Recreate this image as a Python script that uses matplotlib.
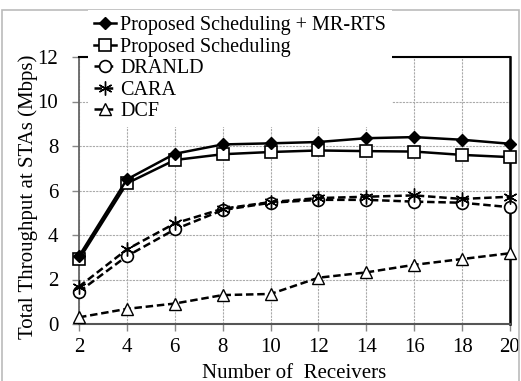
import matplotlib
matplotlib.use("Agg")
import matplotlib.pyplot as plt
from matplotlib.patches import Rectangle

plt.rcParams['font.family'] = ['Liberation Serif', 'DejaVu Serif']

# data
receivers = [2, 4, 6, 8, 10, 12, 14, 16, 18, 20]
mr_rts = [3.05, 6.5, 7.65, 8.07, 8.12, 8.18, 8.35, 8.4, 8.28, 8.1]
proposed = [2.9, 6.32, 7.37, 7.63, 7.73, 7.8, 7.77, 7.75, 7.6, 7.5]
dranld = [1.45, 3.05, 4.25, 5.12, 5.45, 5.58, 5.58, 5.5, 5.45, 5.25]
cara = [1.68, 3.35, 4.52, 5.18, 5.48, 5.66, 5.72, 5.78, 5.62, 5.72]
dcf = [0.3, 0.68, 0.92, 1.3, 1.35, 2.08, 2.32, 2.66, 2.92, 3.18]

labels = ['Proposed Scheduling + MR-RTS', 'Proposed Scheduling', 'DRANLD', 'CARA', 'DCF']

fig = plt.figure(figsize=(5.21, 3.81), dpi=100)
ax = fig.add_axes([79/521, 1 - 324/381, (510 - 79)/521, (324 - 57)/381])

ax.plot(receivers, mr_rts, color='black', lw=1.8, marker='D', ms=6.5,
        mfc='black', mec='black', label=labels[0], clip_on=False, zorder=5)
ax.plot(receivers, proposed, color='black', lw=1.8, marker='s', ms=8.5,
        mfc='white', mec='black', mew=1.2, label=labels[1], clip_on=False, zorder=4)
ax.plot(receivers, dranld, color='black', lw=1.8, ls=(0, (3, 1.5)), marker='o', ms=8.5,
        mfc='white', mec='black', mew=1.2, label=labels[2], clip_on=False, zorder=4)
ax.plot(receivers, cara, color='black', lw=1.8, ls=(0, (3, 1.5)), marker=(6, 2, 0), ms=10,
        mec='black', mew=1.0, label=labels[3], clip_on=False, zorder=4)
ax.plot(receivers, dcf, color='black', lw=1.8, ls=(0, (3, 1.5)), marker='^', ms=9,
        mfc='white', mec='black', mew=1.0, label=labels[4], clip_on=False, zorder=4)

ax.set_xlim(2, 20)
ax.set_ylim(0, 12)
ax.set_xticks(receivers)
ax.set_yticks(range(0, 13, 2))
ax.tick_params(axis='both', labelsize=15, color='#888888', length=5, width=1)
ax.tick_params(axis='x', pad=5)
ax.tick_params(axis='y', pad=10)
ax.grid(True, color='#aaaaaa', ls=(0, (2, 1)), lw=0.8)
ax.set_axisbelow(True)

ax.spines['left'].set_color('#666666')
ax.spines['bottom'].set_color('#555555')
ax.spines['left'].set_linewidth(1.3)
ax.spines['bottom'].set_linewidth(1.5)
ax.spines['right'].set_color('black')
ax.spines['right'].set_linewidth(1.8)
ax.spines['top'].set_color('black')
ax.spines['top'].set_linewidth(1.5)

ax.set_ylabel('Total Throughput at STAs (Mbps)', fontsize=15)
ax.yaxis.set_label_coords(-41/431, 0.476)
ax.set_xlabel('Number of  Receivers', fontsize=15, labelpad=5)

handles, labs = ax.get_legend_handles_labels()
leg = fig.legend(handles, labs, loc='upper left', bbox_to_anchor=(88/521, 1 - 10/381),
                 borderaxespad=0, borderpad=0.3, labelspacing=0.12, handlelength=1.1,
                 handletextpad=0.2, fontsize=14.5, frameon=True, fancybox=False,
                 edgecolor='none', facecolor='white', framealpha=1.0)

# light border around the whole picture
fig.patches.append(Rectangle((2/521, -0.2), 517/521, 1.2 - 10/381, transform=fig.transFigure,
                             fill=False, edgecolor='#bbbbbb', lw=1.2, zorder=0))

fig.savefig('out.png', dpi=100)
